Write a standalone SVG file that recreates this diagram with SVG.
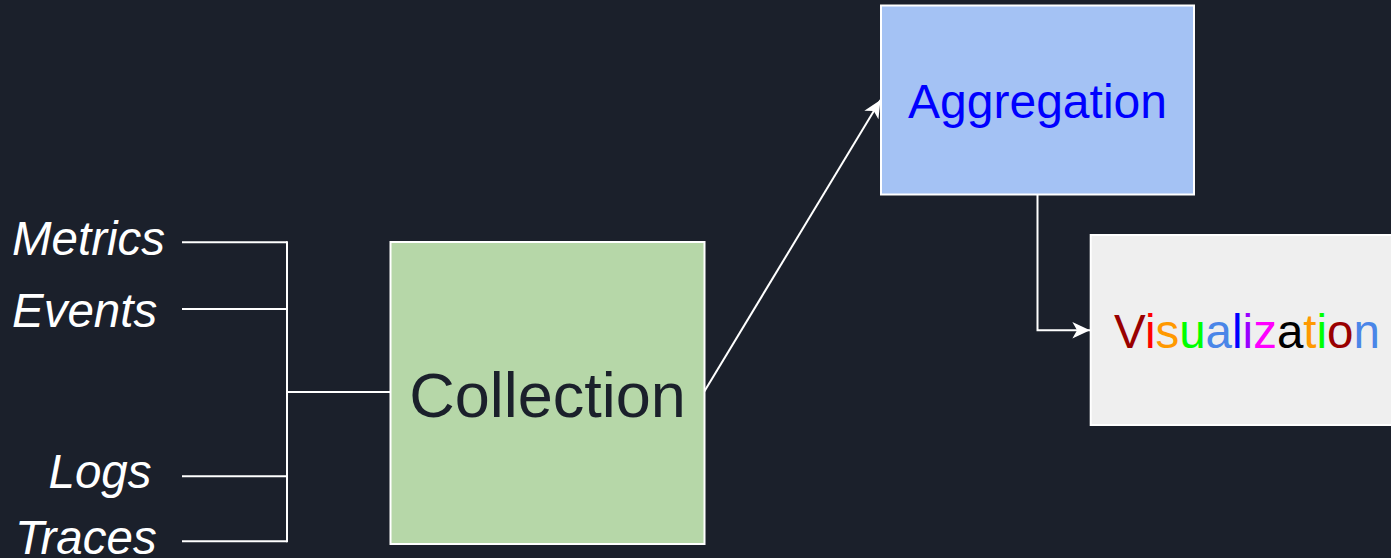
<svg xmlns="http://www.w3.org/2000/svg" width="1391" height="558" viewBox="0 0 1391 558">
  <style>
    .lbl { font-family: "Liberation Sans", Arial, sans-serif; font-style: italic; font-size: 47.5px; fill: #ffffff; }
    .box { stroke: #ffffff; stroke-width: 2; }
    .conn { stroke: #ffffff; fill: none; stroke-width: 2; }
    .node-text { font-family: "Liberation Sans", Arial, sans-serif; text-anchor: middle; }
  </style>
  <defs>
    <marker id="arrow" markerUnits="userSpaceOnUse" markerWidth="20" markerHeight="20" viewBox="-16 -8 17 16" refX="0" refY="0" orient="auto">
      <path d="M0,0 L-15,-7 L-11,0 L-15,7 Z" fill="#ffffff"/>
    </marker>
  </defs>
  <rect width="1391" height="558" fill="#1b202b"/>

  <g id="connectors">
    <line class="conn" x1="182" y1="242.3" x2="287" y2="242.3"/>
    <line class="conn" x1="182" y1="309" x2="287" y2="309"/>
    <line class="conn" x1="182" y1="476.3" x2="287" y2="476.3"/>
    <line class="conn" x1="182" y1="541.3" x2="287" y2="541.3"/>
    <line class="conn" x1="287" y1="241.3" x2="287" y2="542.3" stroke-width="2.5"/>
    <line class="conn" x1="287" y1="392" x2="390.5" y2="392" stroke-width="3"/>
    <line class="conn" x1="704" y1="392" x2="880.5" y2="100" stroke-width="2.5" marker-end="url(#arrow)"/>
    <polyline class="conn" points="1037.5,195 1037.5,330.3 1090,330.3" stroke-width="2.5" marker-end="url(#arrow)"/>
  </g>

  <g id="labels">
    <text class="lbl" x="12" y="255">Metrics</text>
    <text class="lbl" x="12" y="326.5">Events</text>
    <text class="lbl" x="48.5" y="488">Logs</text>
    <text class="lbl" x="15" y="553.5">Traces</text>
  </g>

  <g id="collection">
    <rect class="box" x="390.5" y="242" width="314" height="302" fill="#b6d7a8"/>
    <text class="node-text" x="547.5" y="417" font-size="63" fill="#1b202b">Collection</text>
  </g>

  <g id="aggregation">
    <rect class="box" x="881" y="5.5" width="313" height="189" fill="#a4c2f4"/>
    <text class="node-text" x="1037.5" y="118.3" font-size="48" fill="#0000ff">Aggregation</text>
  </g>

  <g id="visualization">
    <rect class="box" x="1090.7" y="235" width="313" height="190" fill="#efefef"/>
    <text class="node-text" x="1247" y="347.7" font-size="47.5"><tspan fill="#990000">V</tspan><tspan fill="#ff0000">i</tspan><tspan fill="#ff9900">s</tspan><tspan fill="#00ff00">u</tspan><tspan fill="#4a86e8">a</tspan><tspan fill="#0000ff">l</tspan><tspan fill="#9900ff">i</tspan><tspan fill="#ff00ff">z</tspan><tspan fill="#000000">a</tspan><tspan fill="#ff9900">t</tspan><tspan fill="#00ff00">i</tspan><tspan fill="#990000">o</tspan><tspan fill="#4a86e8">n</tspan></text>
  </g>
</svg>
